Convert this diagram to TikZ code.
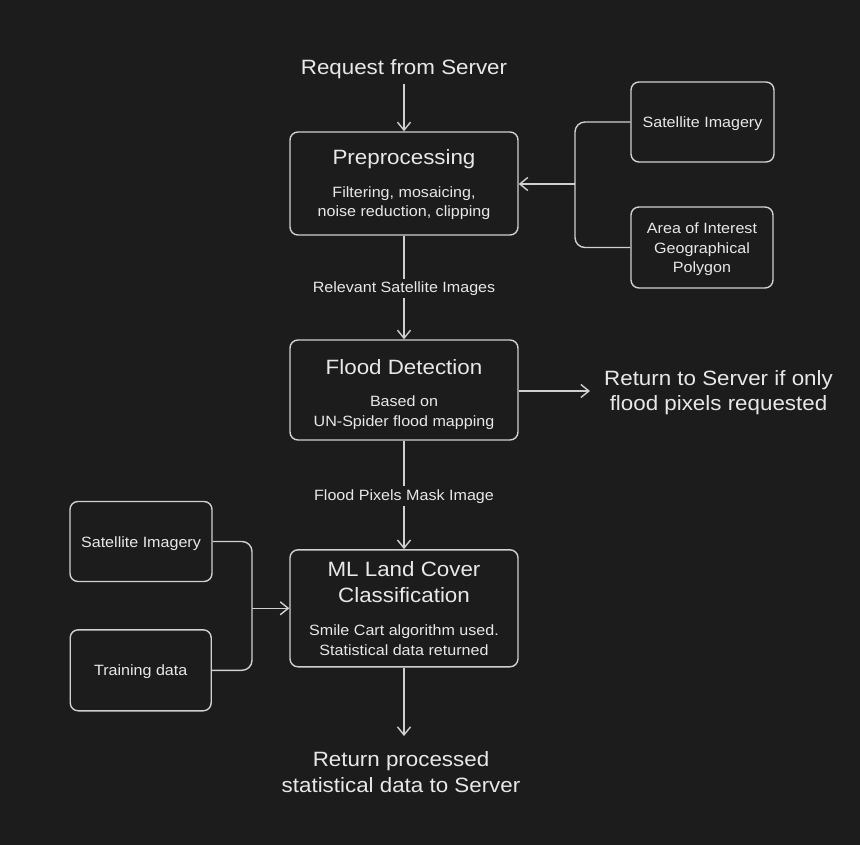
\documentclass[tikz,border=0pt]{standalone}
\usepackage{fontspec}
\setmainfont{Liberation Sans}[FakeStretch=1.08]
\usetikzlibrary{arrows.meta}
\definecolor{bg}{HTML}{1C1C1C}
\definecolor{ln}{HTML}{D0D0D0}
\definecolor{tx}{HTML}{E8E8E8}
\begin{document}
\begin{tikzpicture}[x=1pt,y=-1pt,
  box/.style={draw=ln, line width=1.4pt, rounded corners=8pt, inner sep=0pt, fill=bg},
  ttl/.style={text=tx, font=\fontsize{20.7}{25.6}\selectfont, align=center, inner sep=0pt, anchor=base},
  sub/.style={text=tx, font=\fontsize{14.9}{19.2}\selectfont, align=center, inner sep=0pt, anchor=base},
  lbl/.style={text=tx, font=\fontsize{14.9}{19}\selectfont, fill=bg, inner sep=3pt, anchor=base},
  conn/.style={draw=ln, line width=1.4pt, rounded corners=10pt, -{Straight Barb[length=8pt,width=13pt,line width=1.4pt]}},
  plain/.style={draw=ln, line width=1.4pt, rounded corners=10pt}]
\fill[bg] (0,0) rectangle (860,845);
\useasboundingbox (0,0) rectangle (860,845);

% boxes
\node[box, minimum width=228pt, minimum height=103pt] (pre) at (404,183.5) {};
\node[box, minimum width=143pt, minimum height=80pt] (sat1) at (702.5,122) {};
\node[box, minimum width=142pt, minimum height=81pt] (aoi) at (702,247.5) {};
\node[box, minimum width=228pt, minimum height=100pt] (flood) at (404,390) {};
\node[box, minimum width=228pt, minimum height=117pt] (ml) at (404,608.3) {};
\node[box, minimum width=142pt, minimum height=80pt] (sat2) at (141,541.5) {};
\node[box, minimum width=141pt, minimum height=81pt] (train) at (140.7,670.3) {};

% free texts (anchor = baseline of last line)
\node[ttl] (req) at (404,74.3) {Request from Server};
\node[ttl] (ret) at (718.5,410.7) {Return to Server if only\\flood pixels requested};
\node[ttl] (fin) at (401,792.3) {Return processed\\statistical data to Server};

% box texts
\node[ttl] (pret) at (404,165) {Preprocessing};
\node[sub] (pres) at (404,216.7) {Filtering, mosaicing,\\noise reduction, clipping};
\node[sub] (sat1t) at (702.5,127.7) {Satellite Imagery};
\node[sub] (aoit) at (702,272.3) {Area of Interest\\Geographical\\Polygon};
\node[ttl] (floodt) at (404,374.3) {Flood Detection};
\node[sub] (floods) at (404,426) {Based on\\UN-Spider flood mapping};
\node[ttl] (mlt) at (404,602.3) {ML Land Cover\\Classification};
\node[sub] (mls) at (404,655) {Smile Cart algorithm used.\\Statistical data returned};
\node[sub] (sat2t) at (141,547.7) {Satellite Imagery};
\node[sub] (traint) at (140.7,675.7) {Training data};

% connectors
\coordinate (reqEnd) at (404,84);
\draw[conn] (reqEnd) -- (pre.north);
\draw[conn] (pre.south) -- (flood.north);
\draw[conn] (flood.south) -- (ml.north);
\coordinate (finTop) at (404,736);
\draw[conn] (ml.south) -- (finTop);
\coordinate (retEnd) at (590,391);
\draw[conn] (flood.east |- retEnd) -- (retEnd);

\coordinate (jr) at (575,184);
\draw[plain] (sat1.west) -| (jr);
\draw[plain] (aoi.west) -| (jr);
\draw[conn] (jr) -- (pre.east |- jr);

\coordinate (jl) at (252,608.3);
\draw[plain] (sat2.east) -| (jl);
\draw[plain] (train.east) -| (jl);
\draw[conn] (jl) -- (ml.west |- jl);

% connector labels
\node[lbl] (l1) at (404,292.3) {Relevant Satellite Images};
\node[lbl] (l2) at (404,500) {Flood Pixels Mask Image};
\end{tikzpicture}
\end{document}
